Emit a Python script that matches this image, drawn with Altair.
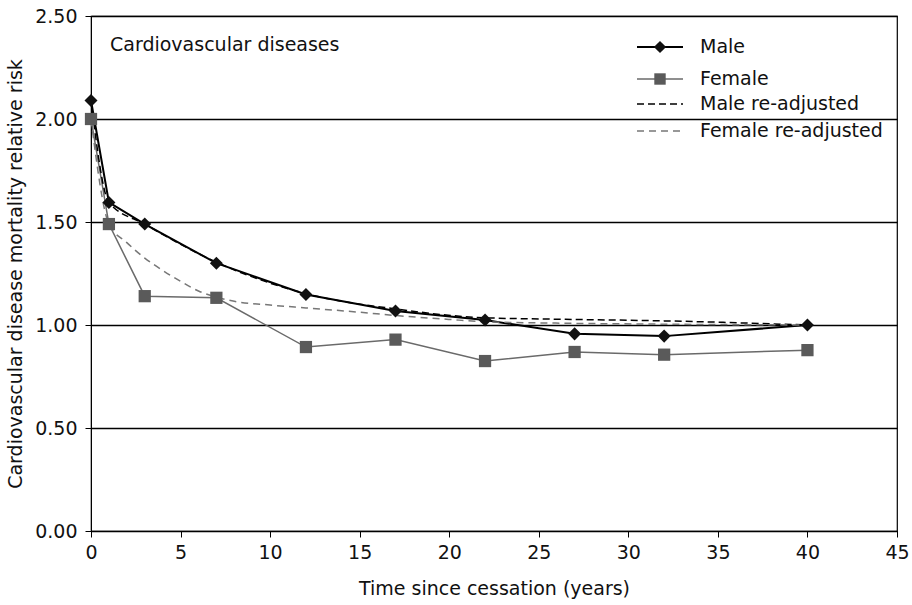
import altair as alt
import pandas as pd

# ---- data ----
years = [0, 1, 3, 7, 12, 17, 22, 27, 32, 40]
male = [2.09, 1.595, 1.49, 1.30, 1.148, 1.068, 1.024, 0.957, 0.946, 1.00]
female = [2.00, 1.49, 1.14, 1.132, 0.893, 0.929, 0.825, 0.869, 0.856, 0.878]

male_adj_x = [0, 1, 3, 7, 12, 17, 22, 27, 32, 40]
male_adj_y = [2.09, 1.595, 1.49, 1.305, 1.152, 1.078, 1.035, 1.027, 1.02, 1.00]

female_adj_x = [0, 1, 2, 3, 4, 5, 6, 7, 8, 10, 12, 15, 17, 20, 22, 27, 32, 40]
female_adj_y = [2.00, 1.49, 1.40, 1.325, 1.265, 1.212, 1.165, 1.135, 1.115, 1.097,
                1.083, 1.062, 1.046, 1.027, 1.016, 1.008, 1.004, 1.00]

FONT = "DejaVu Sans"
FS = 19

df_m = pd.DataFrame({"x": years, "y": male})
df_f = pd.DataFrame({"x": years, "y": female})
df_ma = pd.DataFrame({"x": male_adj_x, "y": male_adj_y})
df_fa = pd.DataFrame({"x": female_adj_x, "y": female_adj_y})

xs = alt.Scale(domain=[0, 45], nice=False, zero=False)
ys = alt.Scale(domain=[0, 2.5], nice=False)

xax = alt.Axis(values=list(range(0, 50, 5)), grid=False, tickSize=6, labelPadding=6,
               title="Time since cessation (years)", titlePadding=17,
               labelFontSize=FS, titleFontSize=FS, labelFont=FONT, titleFont=FONT,
               titleFontWeight="normal", labelColor="#111", titleColor="#111",
               domainColor="black", tickColor="black", labelFlush=False)
yax = alt.Axis(values=[0, 0.5, 1.0, 1.5, 2.0, 2.5], format=".2f", grid=True,
               gridColor="black", gridWidth=1.3, gridOpacity=1,
               tickSize=6, labelPadding=8,
               title="Cardiovascular disease mortality relative risk", titlePadding=9,
               labelFontSize=FS, titleFontSize=FS, labelFont=FONT, titleFont=FONT,
               titleFontWeight="normal", labelColor="#111", titleColor="#111",
               domainColor="black", tickColor="black")

def enc(ch):
    return ch.encode(
        x=alt.X("x:Q", scale=xs, axis=xax),
        y=alt.Y("y:Q", scale=ys, axis=yax),
    )

male_line = enc(alt.Chart(df_m).mark_line(color="black", strokeWidth=2))
female_line = enc(alt.Chart(df_f).mark_line(color="#6a6a6a", strokeWidth=1.5))
male_adj = enc(alt.Chart(df_ma).mark_line(color="black", strokeWidth=1.5,
                                          strokeDash=[7, 4], interpolate="monotone"))
female_adj = enc(alt.Chart(df_fa).mark_line(color="#777777", strokeWidth=1.5,
                                            strokeDash=[7, 5], interpolate="monotone"))
male_pts = enc(alt.Chart(df_m).mark_point(shape="diamond", size=170, filled=True,
                                          color="#111111", opacity=1))
female_pts = enc(alt.Chart(df_f).mark_point(shape="square", size=150, filled=True,
                                            color="#5a5a5a", opacity=1))

# ---- annotation and legend (inside the plot, top) ----
one = pd.DataFrame({"k": [0]})
label_box = alt.Chart(one).mark_text(text="Cardiovascular diseases", font=FONT, fontSize=FS,
                                     align="left", baseline="middle", color="#111").encode(
    x=alt.value(19), y=alt.value(29))

legend_labels = ["Male", "Female", "Male re-adjusted", "Female re-adjusted"]
row_y = [31, 63, 88, 115]
lx1, lx2, ltx = 546, 592, 609

leg = []
styles = [
    dict(color="black", strokeWidth=2),
    dict(color="#6a6a6a", strokeWidth=1.5),
    dict(color="black", strokeWidth=1.5, strokeDash=[7, 4]),
    dict(color="#777777", strokeWidth=1.5, strokeDash=[7, 5]),
]
for lab, yy, st in zip(legend_labels, row_y, styles):
    leg.append(alt.Chart(one).mark_rule(**st).encode(
        x=alt.value(lx1), x2=alt.value(lx2), y=alt.value(yy)))
    leg.append(alt.Chart(one).mark_text(text=lab, font=FONT, fontSize=FS, align="left",
                                        baseline="middle", color="#111").encode(
        x=alt.value(ltx), y=alt.value(yy)))
leg.append(alt.Chart(one).mark_point(shape="diamond", size=150, filled=True,
                                     color="#111111", opacity=1).encode(
    x=alt.value(569), y=alt.value(row_y[0])))
leg.append(alt.Chart(one).mark_point(shape="square", size=130, filled=True,
                                     color="#5a5a5a", opacity=1).encode(
    x=alt.value(569), y=alt.value(row_y[1])))

chart = alt.layer(
    female_line, male_line, male_adj, female_adj, male_pts, female_pts, label_box, *leg
).properties(
    width=806, height=515,
    autosize=alt.AutoSizeParams(type="none"),
    padding={"left": 91, "top": 16, "right": 15, "bottom": 74},
    background="white",
).configure_view(stroke="black", strokeWidth=1.2)

chart.save("out.html", embed_options={"renderer": "svg", "actions": False})
